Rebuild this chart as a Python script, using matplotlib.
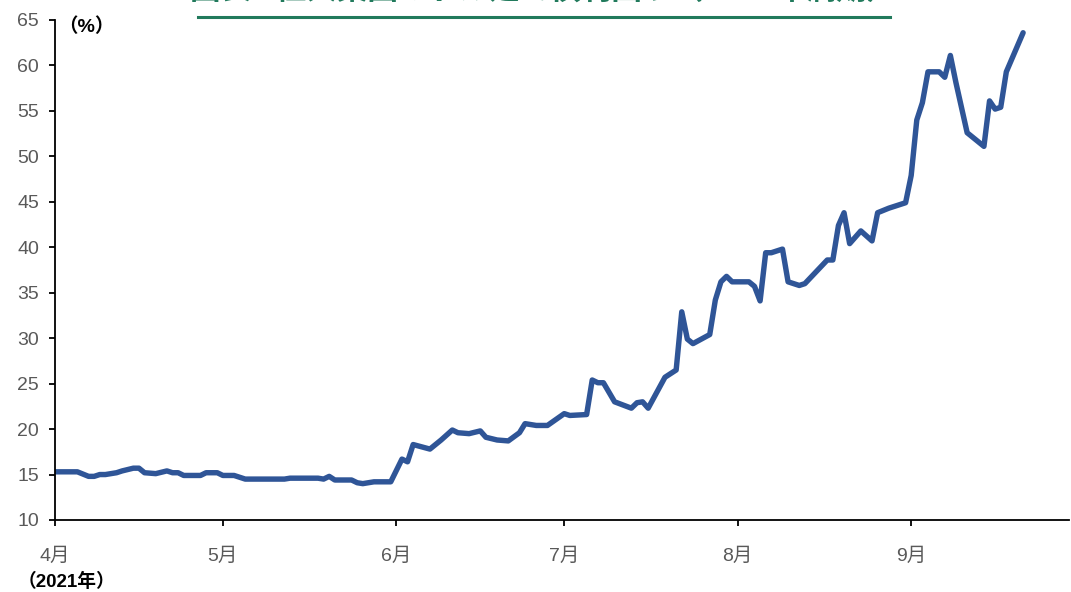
import matplotlib
matplotlib.use("Agg")
import matplotlib.pyplot as plt
import matplotlib.dates as mdates
import numpy as np
from matplotlib.lines import Line2D

plt.rcParams['font.family'] = ['Liberation Sans', 'Noto Sans CJK JP', 'DejaVu Sans']

# Daily yield observations (%), 2021
dates = [
    "2021-04-01", "2021-04-05", "2021-04-07", "2021-04-08", "2021-04-09", "2021-04-10",
    "2021-04-12", "2021-04-13", "2021-04-15", "2021-04-16", "2021-04-17", "2021-04-19",
    "2021-04-21", "2021-04-22", "2021-04-23", "2021-04-24", "2021-04-27", "2021-04-28",
    "2021-04-30", "2021-05-01", "2021-05-03", "2021-05-05", "2021-05-12", "2021-05-13",
    "2021-05-18", "2021-05-19", "2021-05-20", "2021-05-21", "2021-05-24", "2021-05-25",
    "2021-05-26", "2021-05-28", "2021-05-31", "2021-06-02", "2021-06-03", "2021-06-04",
    "2021-06-07", "2021-06-09", "2021-06-11", "2021-06-12", "2021-06-14", "2021-06-16",
    "2021-06-17", "2021-06-19", "2021-06-21", "2021-06-23", "2021-06-24", "2021-06-26",
    "2021-06-28", "2021-07-01", "2021-07-02", "2021-07-05", "2021-07-06", "2021-07-07",
    "2021-07-08", "2021-07-10", "2021-07-13", "2021-07-14", "2021-07-15", "2021-07-16",
    "2021-07-19", "2021-07-21", "2021-07-22", "2021-07-23", "2021-07-24", "2021-07-27",
    "2021-07-28", "2021-07-29", "2021-07-30", "2021-07-31", "2021-08-03", "2021-08-04",
    "2021-08-05", "2021-08-06", "2021-08-07", "2021-08-09", "2021-08-10", "2021-08-12",
    "2021-08-13", "2021-08-17", "2021-08-18", "2021-08-19", "2021-08-20", "2021-08-21",
    "2021-08-23", "2021-08-25", "2021-08-26", "2021-08-28", "2021-08-31", "2021-09-01",
    "2021-09-02", "2021-09-03", "2021-09-04", "2021-09-06", "2021-09-07", "2021-09-08",
    "2021-09-09", "2021-09-11", "2021-09-14", "2021-09-15", "2021-09-16", "2021-09-17",
    "2021-09-18", "2021-09-21",
]
yields = [
    15.3, 15.3, 14.8, 14.8, 15.0, 15.0,
    15.2, 15.4, 15.7, 15.7, 15.2, 15.1,
    15.4, 15.2, 15.2, 14.9, 14.9, 15.2,
    15.2, 14.9, 14.9, 14.5, 14.5, 14.6,
    14.6, 14.5, 14.8, 14.4, 14.4, 14.1,
    14.0, 14.2, 14.2, 16.7, 16.4, 18.3,
    17.8, 18.8, 19.9, 19.6, 19.5, 19.8,
    19.1, 18.8, 18.7, 19.6, 20.6, 20.4,
    20.4, 21.7, 21.5, 21.6, 25.4, 25.1,
    25.1, 23.0, 22.3, 22.9, 23.0, 22.3,
    25.7, 26.5, 32.9, 29.9, 29.4, 30.4,
    34.2, 36.2, 36.8, 36.2, 36.2, 35.7,
    34.1, 39.4, 39.4, 39.8, 36.2, 35.8,
    36.0, 38.6, 38.6, 42.4, 43.8, 40.4,
    41.8, 40.7, 43.8, 44.3, 44.9, 47.9,
    54.0, 55.9, 59.3, 59.3, 58.7, 61.1,
    58.1, 52.6, 51.1, 56.1, 55.2, 55.4,
    59.3, 63.6,
]

month_ticks = ["2021-04-01", "2021-05-01", "2021-06-01", "2021-07-01", "2021-08-01", "2021-09-01"]
month_labels = ["4月", "5月", "6月", "7月", "8月", "9月"]
y_ticks = [10, 15, 20, 25, 30, 35, 40, 45, 50, 55, 60, 65]

title_text = "図表1 恒大集団のドル建て債利回り（2025年満期）"

W, H = 1071, 592
fig = plt.figure(figsize=(W / 100, H / 100), dpi=100)
ax = fig.add_axes([55 / W, (H - 520) / H, (1069 - 55) / W, 500 / H])

x = np.array(dates, dtype="datetime64[D]")
ax.plot(x, yields, color="#2F5597", lw=3.9, solid_joinstyle="round", solid_capstyle="round")

x0 = np.datetime64("2021-04-01")
ax.set_xlim(mdates.date2num(x0), mdates.date2num(x0) + 181.2)
ax.set_ylim(10, 65)

ax.set_xticks(np.array(month_ticks, dtype="datetime64[D]"))
ax.set_xticklabels(month_labels)
ax.set_yticks(y_ticks)

for s in ["top", "right"]:
    ax.spines[s].set_visible(False)
for s in ["left", "bottom"]:
    ax.spines[s].set_linewidth(1.3)
    ax.spines[s].set_color("black")

ax.tick_params(axis="x", direction="out", length=4.5, width=1.3, pad=15,
               labelsize=14, labelcolor="#595959")
ax.tick_params(axis="y", direction="out", length=4.5, width=1.3, pad=7,
               labelsize=14, labelcolor="#595959")

# Unit and year annotations
fig.text(58 / W, 1 - 27 / H, "（%）", fontsize=14, fontweight="bold",
         ha="left", va="center", color="black")
fig.text(66 / W, 1 - 582 / H, "（2021年）", fontsize=13.5, fontweight="bold",
         ha="center", va="center", color="black")

# Underlined green title at the top edge
green = "#217A5C"
fig.text(544 / W, 1 + 10 / H, title_text, fontsize=22, fontweight="bold",
         ha="center", va="center", color=green, family=["Noto Sans CJK JP", "DejaVu Sans"])
fig.add_artist(Line2D([198 / W, 890 / W], [1 - 17 / H, 1 - 17 / H],
                      transform=fig.transFigure, color=green, lw=2.2))

fig.savefig("out.png", dpi=100)
